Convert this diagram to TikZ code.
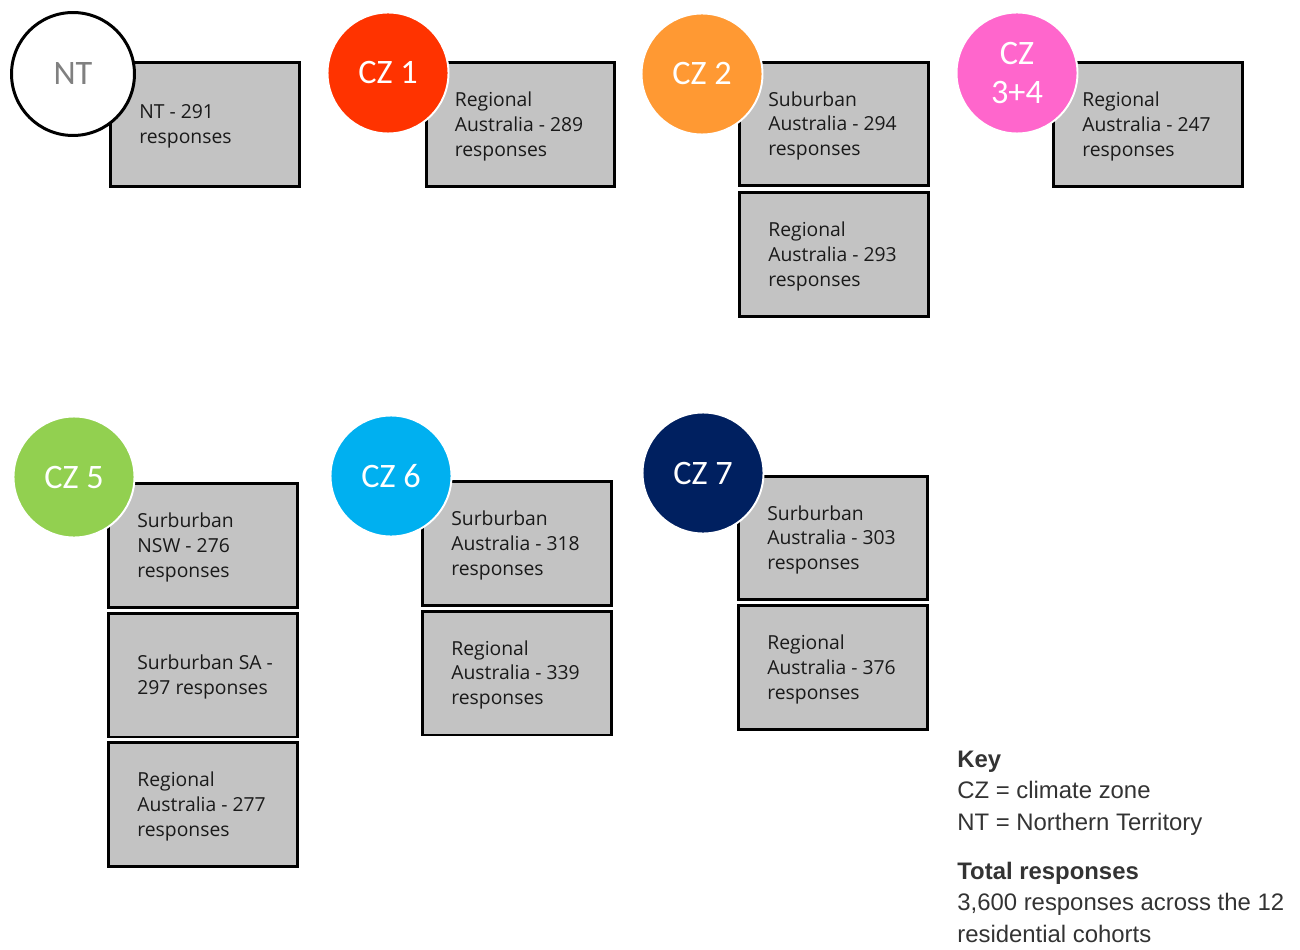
\documentclass[tikz,border=0pt]{standalone}
\usepackage{fontspec}
\setmainfont{Open Sans}
\newfontfamily\zonefont{Carlito}
\newfontfamily\keyfont{Liberation Sans}
\usetikzlibrary{positioning}

\definecolor{boxgray}{HTML}{C3C3C3}
\definecolor{boxtext}{HTML}{1A1A1A}
\definecolor{keytext}{HTML}{333333}
\definecolor{ntgray}{HTML}{808080}
\definecolor{czone}{HTML}{FF3300}
\definecolor{cztwo}{HTML}{FF9933}
\definecolor{czthree}{HTML}{FF66CC}
\definecolor{czfive}{HTML}{92D050}
\definecolor{czsix}{HTML}{00B0F0}
\definecolor{czseven}{HTML}{002060}

\tikzset{
  cohort/.style={draw=black, line width=1.7pt, fill=boxgray, minimum width=3.78cm, minimum height=2.48cm, inner sep=0pt},
  resp/.style={anchor=west, xshift=0.6cm, yshift=-1.1pt, inner sep=0pt, align=left, text=boxtext, font=\fontsize{11}{14.2}\selectfont},
  zone/.style={circle, draw=white, line width=1.1pt, minimum size=2.42cm, inner sep=0pt, text=white, align=center, font=\zonefont\fontsize{19.5}{22}\selectfont},
  keyblock/.style={anchor=base west, inner sep=0pt, align=left, text=keytext, font=\keyfont\fontsize{13.6}{17.9}\selectfont},
}

\begin{document}
\begin{tikzpicture}[x=0.02cm, y=-0.02cm]
            \useasboundingbox (0,0) rectangle (1300,949);

            % top row
            \node[cohort, label={[resp]west:{NT - 291\\responses}}] (NTResp) at (205,124.5) {};
            \node[cohort, label={[resp]west:{Regional\\Australia - 289\\responses}}] (CZ1Regional) at (520.5,124.5) {};
            \node[cohort, label={[resp]west:{Suburban\\Australia - 294\\responses}}] (CZ2Suburban) at (834,124) {};
            \node[cohort, label={[resp]west:{Regional\\Australia - 293\\responses}}] (CZ2Regional) at (834,254.5) {};
            \node[cohort, label={[resp]west:{Regional\\Australia - 247\\responses}}] (CZ34Regional) at (1148,124.5) {};

            \node[zone, fill=white, draw=black, line width=1.7pt, minimum size=2.46cm, text=ntgray] (NT) at (73,74) {NT};
            \node[zone, fill=czone] (CZ1) at (388,73) {CZ 1};
            \node[zone, fill=cztwo] (CZ2) at (702,74) {CZ 2};
            \node[zone, fill=czthree] (CZ34) at (1017,73) {CZ\\3+4};

            % bottom row
            \node[cohort, label={[resp]west:{Surburban\\NSW - 276\\responses}}] (CZ5NSW) at (203,545.5) {};
            \node[cohort, label={[resp]west:{Surburban SA -\\297 responses}}] (CZ5SA) at (203,675) {};
            \node[cohort, label={[resp]west:{Regional\\Australia - 277\\responses}}] (CZ5Regional) at (203,804.5) {};
            \node[cohort, label={[resp]west:{Surburban\\Australia - 318\\responses}}] (CZ6Suburban) at (517,543.5) {};
            \node[cohort, label={[resp]west:{Regional\\Australia - 339\\responses}}] (CZ6Regional) at (517,673) {};
            \node[cohort, label={[resp]west:{Surburban\\Australia - 303\\responses}}] (CZ7Suburban) at (833,538) {};
            \node[cohort, label={[resp]west:{Regional\\Australia - 376\\responses}}] (CZ7Regional) at (833,667.5) {};

            \node[zone, fill=czfive] (CZ5) at (74,477) {CZ 5};
            \node[zone, fill=czsix] (CZ6) at (391,476) {CZ 6};
            \node[zone, fill=czseven] (CZ7) at (703,473) {CZ 7};

            % key (base = last line)
            \node[keyblock] (Key) at (957,830) {\textbf{Key}\\CZ = climate zone\\NT = Northern Territory};
            \node[keyblock] (Total) at (957,942) {\textbf{Total responses}\\3,600 responses across the 12\\residential cohorts};
\end{tikzpicture}
\end{document}
